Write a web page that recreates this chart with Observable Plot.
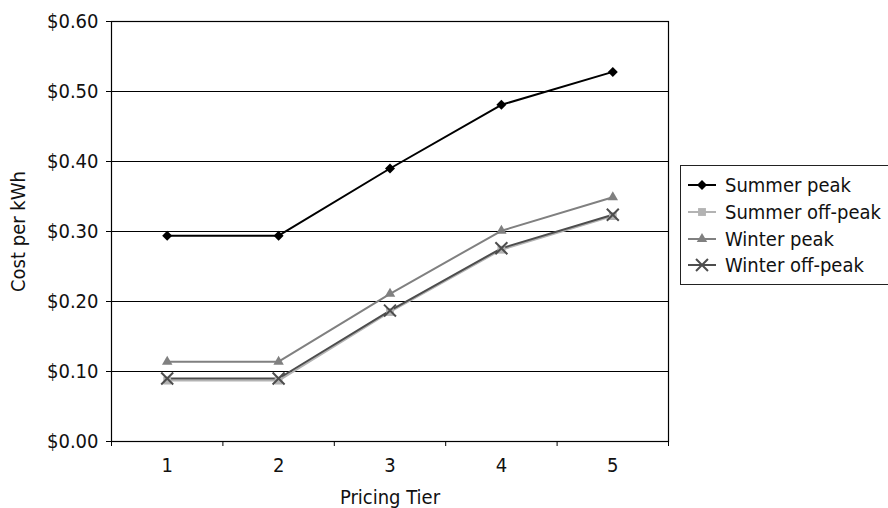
<!DOCTYPE html>
<html><head><meta charset="utf-8">
<script src="https://cdn.jsdelivr.net/npm/d3@7"></script>
<script src="https://cdn.jsdelivr.net/npm/@observablehq/plot@0.6"></script>
<style>
body{margin:0;background:#fff;}
#wrap{position:relative;width:888px;height:508px;overflow:hidden;font-family:"Liberation Sans Narrow","DejaVu Sans Condensed","Roboto",sans-serif;}
#legend{position:absolute;left:680px;top:165px;width:240px;height:120px;border:1px solid #222;box-sizing:border-box;background:#fff;padding-top:6px;}
.row{display:flex;align-items:center;height:26.7px;font-size:20px;color:#111;white-space:nowrap;}
.row svg{margin-left:7px;margin-right:9px;flex:none;}
</style></head><body><div id="wrap"></div>
<script>
const tiers = [1, 2, 3, 4, 5];
const seriesNames = ["Summer peak", "Summer off-peak", "Winter peak", "Winter off-peak"];
const summerPeak = [0.294, 0.294, 0.390, 0.481, 0.528];
const summerOffPeak = [0.087, 0.087, 0.185, 0.274, 0.322];
const winterPeak = [0.114, 0.114, 0.211, 0.301, 0.349];
const winterOffPeak = [0.090, 0.090, 0.187, 0.276, 0.324];
const yTicks = [0, 0.1, 0.2, 0.3, 0.4, 0.5, 0.6];
const tierBounds = [0.5, 1.5, 2.5, 3.5, 4.5, 5.5];

const colors = ["#000000", "#b3b3b3", "#808080", "#4d4d4d"];
const symbols = ["diamond2", "square2", "triangle2", "times"];
const allValues = [summerPeak, summerOffPeak, winterPeak, winterOffPeak];

const data = [];
seriesNames.forEach((s, i) => tiers.forEach((t, j) => data.push({series: s, tier: t, value: allValues[i][j]})));

const marks = [
  Plot.gridY(yTicks, {stroke: "#000", strokeOpacity: 1, strokeWidth: 1}),
  Plot.axisY({ticks: yTicks, tickFormat: d => "$" + d.toFixed(2), tickSize: 5, tickPadding: 8,
    label: "Cost per kWh", labelAnchor: "center", labelArrow: "none", labelOffset: 101, stroke: "#000"}),
  Plot.axisX({ticks: tierBounds, tickFormat: () => "", tickSize: 5, label: null, stroke: "#000"}),
  Plot.axisX({ticks: tiers, tickSize: 0, tickPadding: 16, tickFormat: d => String(d),
    label: "Pricing Tier", labelAnchor: "center", labelArrow: "none", labelOffset: 62}),
  Plot.frame({stroke: "#000", strokeWidth: 1.2})
];
seriesNames.forEach((s, i) => {
  const rows = data.filter(d => d.series === s);
  marks.push(Plot.line(rows, {x: "tier", y: "value", stroke: colors[i], strokeWidth: 2}));
});
seriesNames.forEach((s, i) => {
  const rows = data.filter(d => d.series === s);
  if (symbols[i] === "times") {
    marks.push(Plot.dot(rows, {x: "tier", y: "value", symbol: "times", r: 5.5, stroke: colors[i], strokeWidth: 2}));
  } else {
    marks.push(Plot.dot(rows, {x: "tier", y: "value", symbol: symbols[i], r: symbols[i] === "diamond2" ? 4.5 : 5, fill: colors[i], stroke: "none"}));
  }
});

const chart = Plot.plot({
  width: 888, height: 508,
  marginLeft: 111, marginRight: 220, marginTop: 21, marginBottom: 67,
  x: {domain: [0.5, 5.5]},
  y: {domain: [0, 0.6]},
  style: {fontFamily: '"Liberation Sans Narrow","DejaVu Sans Condensed","Roboto",sans-serif', fontSize: "20px", color: "#111", background: "#fff"},
  marks
});
const wrap = document.getElementById("wrap");
wrap.appendChild(chart);

// legend
const legend = document.createElement("div");
legend.id = "legend";
seriesNames.forEach((s, i) => {
  const row = document.createElement("div");
  row.className = "row";
  const svg = d3.create("svg").attr("width", 28).attr("height", 14);
  svg.append("line").attr("x1", 0).attr("x2", 28).attr("y1", 7).attr("y2", 7).attr("stroke", colors[i]).attr("stroke-width", 2);
  const symMap = {diamond2: d3.symbolDiamond2, square2: d3.symbolSquare2, triangle2: d3.symbolTriangle2, times: d3.symbolTimes};
  const r = symbols[i] === "times" ? 5.5 : (symbols[i] === "diamond2" ? 4.5 : 5);
  const p = svg.append("path").attr("transform", "translate(14,7)").attr("d", d3.symbol(symMap[symbols[i]], r * r * Math.PI)());
  if (symbols[i] === "times") p.attr("fill", "none").attr("stroke", colors[i]).attr("stroke-width", 2);
  else p.attr("fill", colors[i]);
  row.appendChild(svg.node());
  const span = document.createElement("span");
  span.textContent = s;
  row.appendChild(span);
  legend.appendChild(row);
});
wrap.appendChild(legend);
</script></body></html>
